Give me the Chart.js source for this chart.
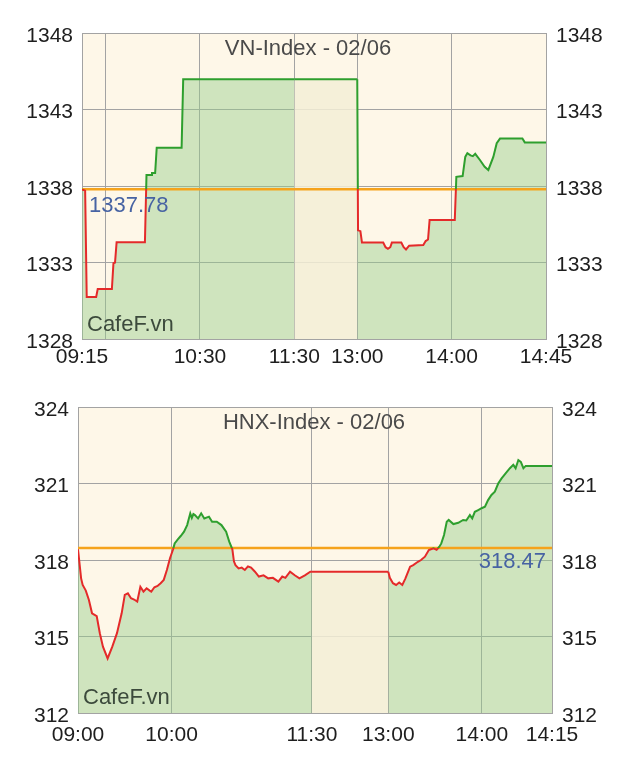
<!DOCTYPE html>
<html><head><meta charset="utf-8">
<script src="https://cdn.jsdelivr.net/npm/chart.js@4"></script>
<style>
html,body{margin:0;padding:0;background:#fff;}
canvas{position:absolute;left:0;}
#c1{top:0;}
#c2{top:380px;}
</style></head><body>
<canvas id="c1" width="634" height="380"></canvas>
<canvas id="c2" width="634" height="399"></canvas>
<script>
// ---------- VN-Index ----------
const vnTitle = 'VN-Index - 02/06';
const vnRef = 1337.78;
const vnTimes = ['09:15','09:17','09:18','09:24','09:25','09:34','09:35','09:36','09:37','09:55','09:56','09:59','09:59:30','10:01:30','10:02:30','10:18:20','10:19:20','11:30',
  '13:00','13:00:30','13:02','13:03','13:16:30','13:18','13:19:30','13:21','13:22','13:28','13:29:30','13:31','13:33','13:42','13:43:30','13:45','13:46','14:02','14:03',
  '14:07','14:08:40','14:10','14:12','14:13:30','14:15','14:18','14:21','14:23:20','14:26:30','14:28:40','14:30:45','14:45','14:46:30','15:00'];
const vnValues = [1337.78,1337.7,1330.75,1330.75,1331.27,1331.27,1332.95,1333.0,1334.32,1334.32,1338.72,1338.72,1338.85,1338.85,1340.5,1340.5,1344.97,1344.97,
  1344.97,1335.1,1335.05,1334.3,1334.3,1334.0,1333.9,1334.0,1334.3,1334.3,1334.0,1333.85,1334.1,1334.15,1334.4,1334.5,1335.78,1335.78,1338.6,
  1338.65,1339.9,1340.15,1340.0,1339.95,1340.1,1339.7,1339.26,1339.05,1339.9,1340.8,1341.1,1341.1,1340.85,1340.85];
const vnYTicks = [1328,1333,1338,1343,1348];
const vnXTickTimes = ['09:15','09:30','10:30','11:30','13:00','14:00','15:00'];
const vnXTickLabels = ['09:15','','10:30','11:30','13:00','14:00','14:45'];

// ---------- HNX-Index ----------
const hnxTitle = 'HNX-Index - 02/06';
const hnxRef = 318.47;
const hnxTimes = ['09:00','09:02','09:03','09:05','09:07','09:09','09:12','09:14','09:16','09:19','09:22','09:25','09:28','09:30','09:32','09:34','09:36','09:38','09:40','09:42','09:44','09:46','09:47','09:49','09:51','09:53','09:55','09:57','09:59',
  '10:01','10:02','10:04','10:06','10:08','10:10','10:12','10:13','10:14','10:15','10:17','10:19','10:21','10:24','10:26','10:29','10:32','10:35','10:37','10:39','10:40','10:41','10:43','10:45','10:47','10:49','10:51','10:53:30','10:56','10:59',
  '11:02','11:05','11:08:30','11:11','11:13','11:16','11:19','11:22','11:25:30','11:29','11:30',
  '13:00','13:01','13:03','13:05','13:07','13:09','13:11','13:14','13:16','13:19','13:21','13:23:30','13:26','13:29','13:31','13:32:45','13:34','13:35:45','13:37:30','13:38:45','13:41:45','13:44:55','13:48','13:50','13:52:20','13:53:50','13:55:30','13:57:40','13:59:50',
  '14:02','14:04','14:06:10','14:08:20','14:10:30','14:12:40','14:15:15','14:18','14:20:10','14:21:40','14:23:25','14:25','14:26:40','14:28:10','14:45'];
const hnxValues = [318.42,317.28,317.02,316.8,316.43,315.91,315.8,315.13,314.6,314.14,314.6,315.13,315.91,316.63,316.69,316.5,316.45,316.37,316.95,316.76,316.89,316.8,316.76,316.93,316.98,317.09,317.22,317.61,318.07,
  318.42,318.65,318.81,318.95,319.11,319.37,319.83,319.65,319.8,319.76,319.63,319.83,319.63,319.7,319.5,319.5,319.37,319.11,318.72,318.42,317.95,317.8,317.67,317.7,317.61,317.75,317.7,317.54,317.35,317.4,
  317.28,317.3,317.15,317.35,317.3,317.54,317.4,317.28,317.4,317.54,317.54,
  317.54,317.3,317.09,317.02,317.12,317.02,317.28,317.74,317.8,317.93,318.0,318.13,318.39,318.46,318.4,318.52,318.65,318.98,319.5,319.57,319.41,319.46,319.57,319.55,319.76,319.63,319.89,319.96,320.03,
  320.09,320.35,320.55,320.68,321.0,321.2,321.4,321.6,321.73,321.6,321.92,321.85,321.6,321.69,321.69];
const hnxYTicks = [312,315,318,321,324];
const hnxXTickTimes = ['09:00','10:00','11:30','13:00','14:00','14:45'];
const hnxXTickLabels = ['09:00','10:00','11:30','13:00','14:00','14:15'];

// ---------- helpers ----------
const FONT = "'Liberation Sans', Arial, Helvetica, sans-serif";
const GREEN = '#2e9f2e', RED = '#e42a2a', ORANGE = '#f5a31c';
const FILL = 'rgba(150,205,140,0.45)', LUNCH = 'rgba(243,239,214,0.85)';
const CREAM = '#fef7e8', GRID = '#a3a3a3';

function toMin(s){ const p = s.split(':').map(Number); return p[0]*60 + p[1] + (p[2]||0)/60; }
function toUnit(t, s){
  const m = toMin(t), st = toMin(s.start), me = toMin(s.morningEnd);
  if (m <= me) return m - st;
  return (me - st) + s.lunchUnits + (m - toMin(s.afternoonStart));
}

function makeChart(id, c){
  const s = c.sess;
  const pts = c.times.map((t,i)=>({x: toUnit(t,s), y: c.values[i]}));
  const xMax = toUnit(s.end, s);
  const lA = toUnit(s.morningEnd, s), lB = toUnit(s.afternoonStart, s);
  const xTicks = c.xTickTimes.map(t=>toUnit(t,s));
  const yMin = c.yTicks[0], yMax = c.yTicks[c.yTicks.length-1];
  const tickFont = {family: FONT, size: 21};

  const bgPlugin = {
    id: 'bg',
    beforeDraw(chart){
      const a = chart.chartArea, ctx = chart.ctx;
      ctx.save(); ctx.fillStyle = CREAM; ctx.fillRect(a.left, a.top, a.right-a.left, a.bottom-a.top); ctx.restore();
    }
  };
  const textPlugin = {
    id: 'txt',
    afterDatasetsDraw(chart){
      const a = chart.chartArea, ctx = chart.ctx;
      const ry = chart.scales.y.getPixelForValue(c.ref);
      ctx.save();
      ctx.textBaseline = 'middle';
      ctx.font = '22px ' + FONT;
      ctx.fillStyle = '#4a4a4a'; ctx.textAlign = 'center';
      ctx.fillText(c.title, (a.left+a.right)/2 + c.titleDx, a.top + 16);
      ctx.fillStyle = '#3c4a3c'; ctx.textAlign = 'left';
      ctx.fillText('CafeF.vn', a.left + 5, a.bottom - c.brandDy);
      ctx.fillStyle = '#4763a3';
      if (c.refLabelSide === 'left') { ctx.textAlign = 'left'; ctx.fillText(c.ref.toFixed(2), a.left + 7, ry + 17); }
      else { ctx.textAlign = 'right'; ctx.fillText(c.ref.toFixed(2), a.right - 6, ry + 14); }
      ctx.restore();
    }
  };

  return new Chart(document.getElementById(id), {
    type: 'line',
    data: { datasets: [
      { data: pts, order: 0, pointRadius: 0, borderWidth: 2, tension: 0, fill: 'start',
        backgroundColor: FILL,
        borderColor: (ctx) => {
          const ch = ctx.chart, a = ch.chartArea;
          if (!a || !ch.scales.y) return GREEN;
          const y = ch.scales.y.getPixelForValue(c.ref);
          const f = Math.min(1, Math.max(0, (y - a.top)/(a.bottom - a.top)));
          const g = ch.ctx.createLinearGradient(0, a.top, 0, a.bottom);
          g.addColorStop(0, GREEN); g.addColorStop(f, GREEN); g.addColorStop(f, RED); g.addColorStop(1, RED);
          return g;
        },
        segment: { backgroundColor: (ctx) => (ctx.p0.parsed.x >= lA - 1e-6 && ctx.p1.parsed.x <= lB + 1e-6) ? LUNCH : undefined }
      },
      { data: [{x: 0, y: c.ref}, {x: xMax, y: c.ref}], order: 1, pointRadius: 0, borderWidth: 2.5, borderColor: ORANGE, fill: false }
    ]},
    options: {
      responsive: false, animation: false, devicePixelRatio: 1,
      layout: { padding: { top: c.padTop, left: 0, right: 0, bottom: 0 } },
      plugins: { legend: {display: false}, tooltip: {enabled: false}, filler: { drawTime: 'beforeDatasetsDraw' } },
      scales: {
        x: { type: 'linear', min: 0, max: xMax,
          afterBuildTicks: (sc) => { sc.ticks = xTicks.map(v=>({value: v})); },
          afterFit: (sc) => { sc.height = c.xH; },
          grid: { color: GRID, drawTicks: false, lineWidth: 1 },
          border: { display: true, color: GRID },
          ticks: { autoSkip: false, maxRotation: 0, padding: c.xPad, color: '#1e1e1e', font: tickFont,
            callback: (v, i) => c.xTickLabels[i] }
        },
        y: { type: 'linear', position: 'left', min: yMin, max: yMax,
          afterBuildTicks: (sc) => { sc.ticks = c.yTicks.map(v=>({value: v})); },
          afterFit: (sc) => { sc.width = c.leftW; },
          grid: { color: GRID, drawTicks: false, lineWidth: 1 },
          border: { display: true, color: GRID },
          ticks: { padding: 9, color: '#1e1e1e', font: tickFont, labelOffset: 3, callback: (v)=>String(v) }
        },
        y2: { type: 'linear', position: 'right', min: yMin, max: yMax,
          afterBuildTicks: (sc) => { sc.ticks = c.yTicks.map(v=>({value: v})); },
          afterFit: (sc) => { sc.width = c.rightW; },
          grid: { display: false, drawTicks: false },
          border: { display: true, color: GRID },
          ticks: { padding: 10, color: '#1e1e1e', font: tickFont, labelOffset: 3, callback: (v)=>String(v) }
        }
      }
    },
    plugins: [bgPlugin, textPlugin]
  });
}

makeChart('c1', {
  title: vnTitle, ref: vnRef, times: vnTimes, values: vnValues, yTicks: vnYTicks,
  xTickTimes: vnXTickTimes, xTickLabels: vnXTickLabels,
  sess: {start: '09:15', morningEnd: '11:30', afternoonStart: '13:00', lunchUnits: 40, end: '15:00'},
  padTop: 33, xH: 41, leftW: 82, rightW: 88, xPad: 6, titleDx: -6, brandDy: 14, refLabelSide: 'left'
});
makeChart('c2', {
  title: hnxTitle, ref: hnxRef, times: hnxTimes, values: hnxValues, yTicks: hnxYTicks,
  xTickTimes: hnxXTickTimes, xTickLabels: hnxXTickLabels,
  sess: {start: '09:00', morningEnd: '11:30', afternoonStart: '13:00', lunchUnits: 49, end: '14:45'},
  padTop: 27, xH: 66, leftW: 78, rightW: 82, xPad: 10, titleDx: -1, brandDy: 15, refLabelSide: 'right'
});
</script>
</body></html>
